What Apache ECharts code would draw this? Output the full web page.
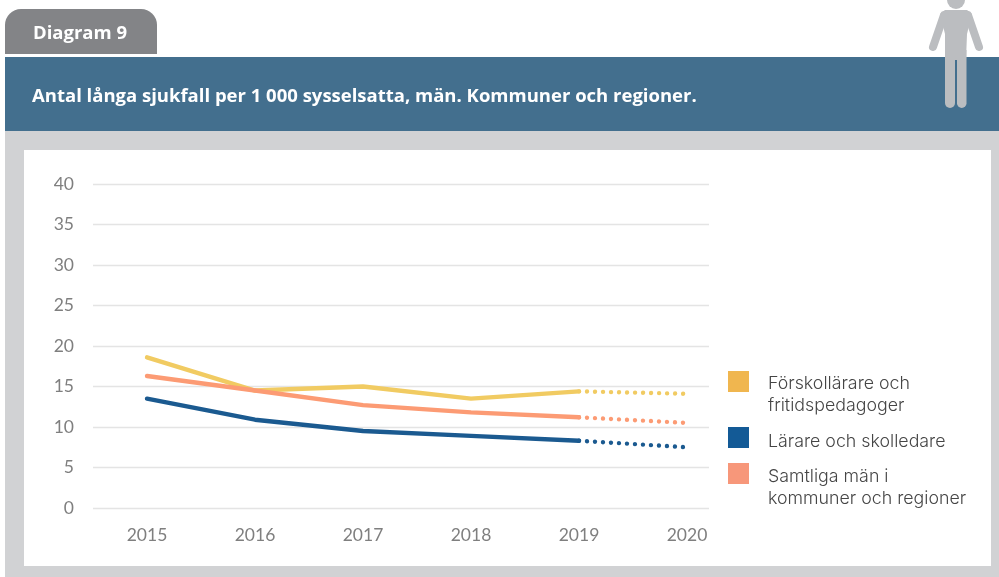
<!DOCTYPE html>
<html><head><meta charset="utf-8">
<style>html,body{margin:0;padding:0;background:#fff}#c{width:999px;height:577px}</style>
<script src="https://cdn.jsdelivr.net/npm/echarts@6/dist/echarts.min.js"></script>
</head><body><div id="c"></div>
<script>
const years = [2015, 2016, 2017, 2018, 2019, 2020];
const yTicks = [0, 5, 10, 15, 20, 25, 30, 35, 40];
const forskola = [18.6, 14.5, 15.0, 13.5, 14.4, 14.1];
const larare = [13.5, 10.9, 9.5, 8.9, 8.3, 7.5];
const samtliga = [16.3, 14.5, 12.7, 11.8, 11.2, 10.5];
const names = ['Förskollärare och\nfritidspedagoger', 'Lärare och skolledare', 'Samtliga män i\nkommuner och regioner'];
const lineColors = ['#f1cb62', '#1b5a90', '#fc9b74'];
const legendColors = ['#f0b64f', '#135a96', '#f7977a'];
const values = [forskola, larare, samtliga];
const order = [0, 2, 1];
const legendTops = [371, 427, 463];
const legendTextTops = [373, 431, 466];

const solid = i => ({
  type: 'line', name: names[i], silent: true, symbol: 'none', z: 3 + (i === 0 ? 0 : 1),
  lineStyle: {color: lineColors[i], width: 4.4, cap: 'round', join: 'round'},
  data: years.slice(0, 5).map((y, k) => [y, values[i][k]])
});
const dotted = i => ({
  type: 'line', name: names[i] + ' prognos', silent: true, symbol: 'none', z: 3,
  lineStyle: {color: lineColors[i], width: 4.4, cap: 'round', type: [0.01, 8]},
  data: years.slice(4).map((y, k) => [y, values[i][k + 4]])
});
const legendFont = '300 17.8px Inter, "Liberation Sans"';
const legendGraphics = names.flatMap((n, i) => [
  {type: 'rect', z: 5, shape: {x: 728, y: legendTops[i], width: 21, height: 21}, style: {fill: legendColors[i]}},
  {type: 'text', z: 5, x: 768, y: legendTextTops[i], style: {text: n, font: legendFont, fill: '#454545', lineHeight: 22, textAlign: 'left', textVerticalAlign: 'top'}}
]);
const person = '#bbbdc0';
const chart = echarts.init(document.getElementById('c'));
chart.setOption({
  animation: false,
  backgroundColor: '#fff',
  title: [
    {text: 'Diagram 9', left: 33, top: 24, padding: 0, textStyle: {color: '#fff', fontFamily: 'Open Sans', fontWeight: 'bold', fontSize: 18.5, lineHeight: 20}},
    {text: 'Antal långa sjukfall per 1 000 sysselsatta, män. Kommuner och regioner.', left: 32, top: 87, padding: 0, textStyle: {color: '#fff', fontFamily: 'Open Sans', fontWeight: 'bold', fontSize: 18.5, lineHeight: 20}}
  ],
  graphic: [
    {type: 'rect', z: -10, shape: {x: 5, y: 9, width: 152, height: 45, r: [16, 16, 0, 0]}, style: {fill: '#838487'}},
    {type: 'rect', z: -10, shape: {x: 5, y: 131, width: 994, height: 446}, style: {fill: '#d1d2d4'}},
    {type: 'rect', z: -10, shape: {x: 5, y: 57, width: 994, height: 74}, style: {fill: '#436f8e'}},
    {type: 'rect', z: -9, shape: {x: 24, y: 150, width: 967, height: 416}, style: {fill: '#ffffff'}},
    {type: 'circle', z: -8, shape: {cx: 956, cy: 0, r: 9}, style: {fill: person}},
    {type: 'polygon', z: -8, shape: {points: [[945, 10], [967, 10], [972, 14], [967, 34], [966, 60], [945, 60], [945, 34], [940, 14]]}, style: {fill: person}},
    {type: 'rect', z: -8, shape: {x: 945, y: 50, width: 10, height: 58, r: [0, 0, 5, 5]}, style: {fill: person}},
    {type: 'rect', z: -8, shape: {x: 957, y: 50, width: 9.5, height: 58, r: [0, 0, 5, 5]}, style: {fill: person}},
    {type: 'line', z: -8, shape: {x1: 944, y1: 15, x2: 933, y2: 47}, style: {stroke: person, lineWidth: 8, lineCap: 'round'}},
    {type: 'line', z: -8, shape: {x1: 968, y1: 15, x2: 979, y2: 47}, style: {stroke: person, lineWidth: 8, lineCap: 'round'}}
  ].concat(legendGraphics),
  grid: {left: 93, top: 184, width: 616, height: 324, containLabel: false},
  xAxis: {
    type: 'value', min: 2014.5, max: 2014.5 + 616 / 108,
    axisLine: {show: false}, axisTick: {show: false}, splitLine: {show: false},
    axisLabel: {customValues: years, formatter: v => String(v), color: '#7f7f7f', fontFamily: 'Lato', fontSize: 17.5, margin: 18, hideOverlap: false, showMaxLabel: true}
  },
  yAxis: {
    type: 'value', min: 0, max: 40, interval: 5,
    axisLine: {show: false}, axisTick: {show: false},
    splitLine: {show: true, lineStyle: {color: '#e4e4e4', width: 1.3}},
    axisLabel: {customValues: yTicks, color: '#7f7f7f', fontFamily: 'Lato', fontSize: 17.5, margin: 19}
  },
  series: order.map(solid).concat(order.map(dotted))
});
</script></body></html>
